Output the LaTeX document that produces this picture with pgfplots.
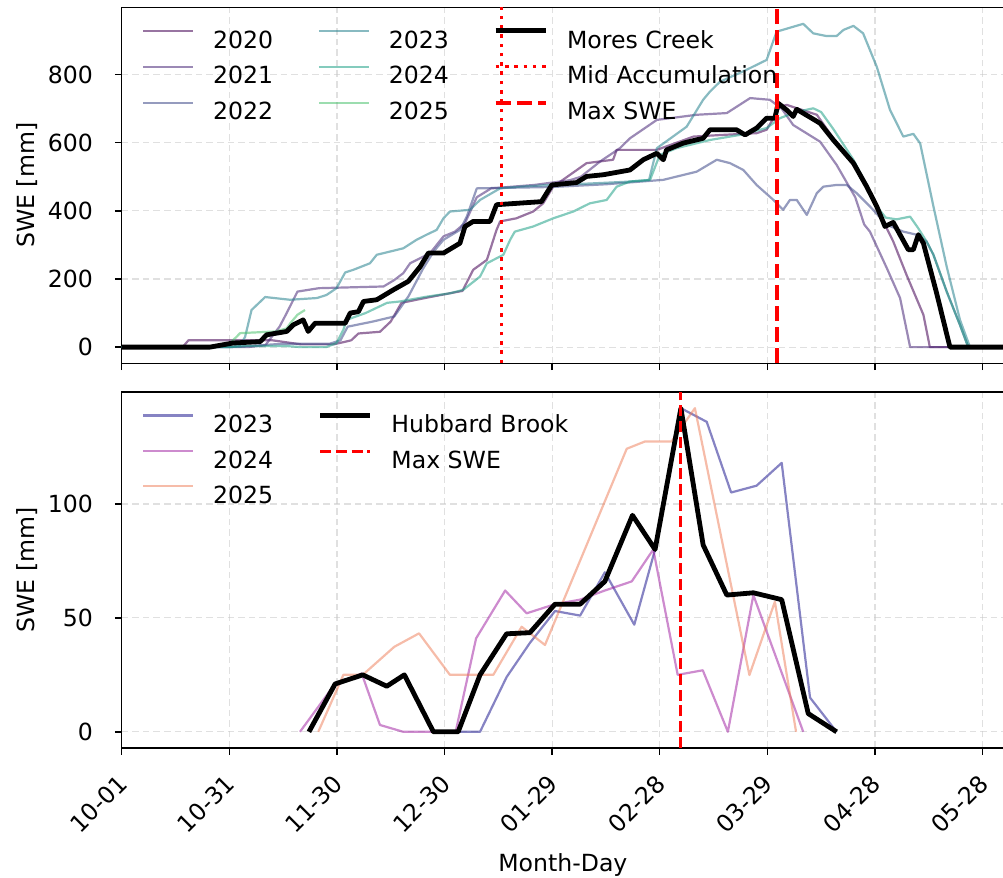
\documentclass[border=0pt]{standalone}
\usepackage{fontspec}
\setmainfont{DejaVu Sans}
\usepackage{pgfplots}
\pgfplotsset{compat=1.18}
\definecolor{yA}{HTML}{440154}
\definecolor{yB}{HTML}{482878}
\definecolor{yC}{HTML}{3E4989}
\definecolor{yD}{HTML}{26828E}
\definecolor{yE}{HTML}{1FA187}
\definecolor{yF}{HTML}{4AC16D}
\definecolor{pA}{HTML}{0D0887}
\definecolor{pB}{HTML}{9C179E}
\definecolor{pC}{HTML}{ED7953}
\definecolor{mred}{HTML}{FF0000}
\begin{document}
\fontsize{11.8}{14}\selectfont
\begin{tikzpicture}
\pgfplotsset{
 base/.style={scale only axis, width=441.2pt, height=178pt, xmin=0, xmax=246,
   xtick={0,30,...,240}, tick align=outside, tick pos=left, major tick length=3.4pt,
   tick style={black, line width=0.75pt},
   axis line style={line width=0.75pt},
   grid=major, grid style={black!22, line width=0.6pt, dash pattern=on 3.3pt off 2pt},
   /pgf/number format/assume math mode=true,
   ticklabel style={font=\fontsize{11.8}{14}\selectfont},
   label style={font=\fontsize{11.8}{14}\selectfont},
   yticklabel style={anchor=east, inner sep=0pt, xshift=-10.85pt},
   legend cell align=left,
   legend style={draw=none, fill=none, font=\fontsize{11.8}{14}\selectfont,
     inner sep=0pt, outer sep=0pt, row sep=8.4pt,
     nodes={inner sep=0pt, text height=8.6pt, text depth=0pt},
     /tikz/every odd column/.append style={column sep=9.5pt},
     /tikz/every even column/.append style={column sep=22.2pt},
     at={(0,1)}, anchor=north west, xshift=10.15pt, yshift=-10.6pt},
   legend image code/.code={\draw[##1] (0pt,4.3pt) -- (25pt,4.3pt);},
 },
 thin/.style={line width=1.1pt, opacity=0.55, line join=round},
 thinb/.style={line width=1.1pt, opacity=0.5, line join=round},
 thick/.style={line width=2.4pt, black, line join=round},
}
% ---------------- top axis ----------------
\begin{axis}[base, at={(0pt,192.35pt)}, anchor=south west,
  ymin=-47.5, ymax=997.5, ytick={0,200,400,600,800}, xticklabels={},
  ylabel={SWE [mm]}, ylabel style={at={(axis description cs:-0.1073,0.5)}, anchor=center},
  legend columns=3]
\addplot[thin, yA, forget plot] coordinates {(0,0)(17,0)(18.6,20)(42,20)(46,14)(50,8)(59,8)(62,15)(64,20)(66,40)(72,45)(75,75)(78,130)(85,145)(91.5,158)(95,165)(98,227)(101.8,256)(104.5,344)(105.5,369)(110,378)(114.7,398)(117.5,422)(120.3,471)(129.6,540)(137,550)(138,579)(149.2,579)(159.4,618)(167.7,623)(177,628)(179.8,638)(181.7,672)(183.5,706)(185.4,711)(193.8,682)(198.4,613)(204,545)(207.7,476)(210.5,408)(215.1,310)(218.8,212)(223.5,95)(225.3,0)(246,0)};
\addplot[thin, yB, forget plot] coordinates {(0,0)(35,0)(40,5)(44,60)(46,100)(49,163)(55,173)(73,178)(76,197)(78.5,217)(80.4,246)(86,276)(89.7,325)(92.9,339)(95.7,364)(99,440)(103,466)(115,476)(125,490)(128,500)(133.4,545)(138.9,584)(141.7,613)(149.2,667)(160.3,682)(168.7,687)(175.2,731)(180.7,726)(184,700)(187.2,652)(194.7,603)(199.3,535)(204.5,440)(207,360)(208.6,339)(213.3,232)(217,144)(219.8,0)(246,0)};
\addplot[thin, yC, forget plot] coordinates {(0,0)(30,0)(38,5)(45,10)(58,10)(61,20)(63,60)(70,75)(76,90)(80,150)(84,230)(87,281)(89.7,315)(94.3,344)(96.2,383)(99,466)(120,470)(135,478)(151,491)(160.3,515)(165.9,550)(169.6,540)(173.3,520)(177,476)(181.7,432)(184.4,403)(186.3,432)(188.2,432)(191,388)(193.8,452)(195.6,471)(199.3,476)(202.1,476)(204.9,452)(208.6,413)(213.3,359)(217.9,339)(221.6,330)(224.4,310)(226.3,271)(230,163)(233.7,65)(236,0)(246,0)};
\addplot[thin, yD, forget plot] coordinates {(0,0)(30,0)(33,5)(34.4,30)(36.2,109)(40,147)(46.9,139)(54.4,144)(57.1,153)(59.9,173)(62.3,219)(64.6,227)(69.2,246)(71.1,271)(78.5,290)(82.2,315)(85,330)(87.8,344)(89.7,378)(91.5,398)(97.1,403)(99.9,432)(105.5,466)(111,471)(119.4,476)(130,480)(140,485)(147,490)(149.2,584)(157.5,647)(162.1,726)(164,750)(166.8,779)(174.2,814)(179.8,843)(181.7,900)(182.6,926)(190,949)(192.8,921)(196.5,913)(199.3,913)(201.2,931)(204,943)(206.7,921)(210.5,823)(214.2,696)(217.9,618)(220.7,626)(222.6,598)(226.3,413)(230,236)(233.7,80)(236.5,0)(246,0)};
\addplot[thin, yE, forget plot] coordinates {(0,0)(30,0)(35,3)(46,3)(50,0)(57,0)(59.9,12)(61.8,51)(62.7,80)(68,100)(74,130)(77.6,134)(85,148)(91.5,158)(95.2,168)(99.9,207)(101.8,246)(106.4,271)(108.3,315)(109.6,339)(114.7,354)(120.3,378)(125.9,398)(130.5,422)(135.2,432)(138,471)(141.7,486)(147.3,491)(150,564)(154.7,584)(164,608)(172.4,623)(179.8,643)(183.5,672)(188,690)(192.8,701)(195,690)(198.4,640)(204,550)(207.7,476)(210.5,413)(213,380)(216,375)(219.8,383)(222,350)(224.4,310)(226.3,271)(230,163)(233.7,65)(236,0)(246,0)};
\addplot[thin, yF, forget plot] coordinates {(0,0)(25,0)(30,10)(32,30)(33,41)(43,46)(46,55)(47,70)(49,95)(51.1,109)};
\addplot[thick, forget plot] coordinates {(0,0)(24.6,0)(31,12)(38.6,16)(40.4,36)(46,46)(47.8,65)(50.6,80)(52,46)(53.9,70)(62.3,70)(63.7,100)(66,104)(67.4,134)(71.1,139)(75.7,168)(79.9,193)(83.2,236)(85.5,276)(89.7,276)(94.3,305)(95.7,354)(98,369)(102.7,369)(104.5,418)(117,427)(119.9,476)(126.8,483)(129.6,501)(134.3,506)(141.7,520)(145.4,550)(149.2,569)(151,550)(151.9,579)(156.6,599)(162.1,613)(164,638)(171.4,638)(173.8,623)(177,643)(179.8,672)(182.1,672)(183,716)(185.4,696)(187.2,677)(188.2,698)(194.7,657)(198.4,608)(204,540)(207.7,471)(210.5,413)(212.8,354)(215.1,366)(219.3,286)(220.7,286)(222.1,330)(223.5,305)(227.2,158)(230.9,0)(246,0)};
\addplot[mred, line width=1.75pt, dash pattern=on 1.75pt off 2.9pt, forget plot] coordinates {(105.9,-47.5)(105.9,997.5)};
\addplot[mred, line width=2pt, dash pattern=on 7.4pt off 3.2pt, forget plot] coordinates {(182.8,-47.5)(182.8,997.5)};
\addlegendimage{thin, yA}\addlegendentry{2020}
\addlegendimage{thin, yD}\addlegendentry{2023}
\addlegendimage{thick}\addlegendentry{Mores Creek}
\addlegendimage{thin, yB}\addlegendentry{2021}
\addlegendimage{thin, yE}\addlegendentry{2024}
\addlegendimage{mred, line width=1.75pt, dash pattern=on 1.75pt off 2.9pt}\addlegendentry{Mid Accumulation}
\addlegendimage{thin, yC}\addlegendentry{2022}
\addlegendimage{thin, yF}\addlegendentry{2025}
\addlegendimage{mred, line width=2pt, dash pattern=on 7.4pt off 3.2pt}\addlegendentry{Max SWE}
\end{axis}
% ---------------- bottom axis ----------------
\begin{axis}[base, at={(0pt,0pt)}, anchor=south west,
  ymin=-7.1, ymax=149.1, ytick={0,50,100},
  xticklabels={10-01,10-31,11-30,12-30,01-29,02-28,03-29,04-28,05-28},
  xticklabel style={xshift=-2.5pt, yshift=-9pt, rotate=45, anchor=north east, inner sep=0pt, text height=8.6pt},
  xlabel={Month-Day}, xlabel style={at={(axis description cs:0.5,-0.329)}, anchor=center},
  ylabel={SWE [mm]}, ylabel style={at={(axis description cs:-0.1073,0.5)}, anchor=center},
  legend columns=2]
\addplot[thinb, pA, forget plot] coordinates {(86.9,0)(93.8,0)(99.9,0)(107.3,24)(113.8,39)(120.8,53)(127.8,51)(134.7,70)(142.9,47)(148.7,80)(155.9,142)(163.1,136)(169.9,105)(177,108)(184,118)(191.9,15)(199.3,0)};
\addplot[thinb, pB, forget plot] coordinates {(49.7,0)(59,20)(66.9,25.6)(72,3)(78.5,0)(86.9,0)(93.1,0)(98.8,41)(106.9,62)(112.9,52)(120.8,56)(127.8,58)(134.7,62)(142.2,66)(148.2,80)(155,25)(162,27)(169,0)(176.1,60)(190,0)};
\addplot[thinb, pC, forget plot] coordinates {(54.8,0)(61.8,25)(67.2,25)(76,37.3)(82.9,43.2)(91.5,25)(103.6,25)(111.5,46.1)(118,38.1)(140.8,124.2)(145.9,127.4)(153.3,127.4)(159.8,142)(175,24.9)(182.1,57.1)(188,0)};
\addplot[thick, forget plot] coordinates {(52.2,0)(59.5,21)(67.2,25)(73.9,20)(78.8,25)(86.9,0)(93.8,0)(99.9,25)(107.3,43)(113.8,43.5)(120.8,56)(127.8,56)(134.7,66)(142.4,95)(148.7,80)(155.9,142)(162.1,82)(168.7,60)(176.1,61)(184,58)(191.4,8)(199.3,0)};
\addplot[mred, line width=1.5pt, dash pattern=on 5.5pt off 2.4pt, forget plot] coordinates {(155.9,-7.1)(155.9,149.1)};
\addlegendimage{thinb, pA}\addlegendentry{2023}
\addlegendimage{thick}\addlegendentry{Hubbard Brook}
\addlegendimage{thinb, pB}\addlegendentry{2024}
\addlegendimage{mred, line width=1.5pt, dash pattern=on 5.5pt off 2.4pt}\addlegendentry{Max SWE}
\addlegendimage{thinb, pC}\addlegendentry{2025}
\end{axis}
\pgfresetboundingbox
\path[use as bounding box] (-60.85pt,-65pt) rectangle (440.65pt,374pt);
\end{tikzpicture}
\end{document}
